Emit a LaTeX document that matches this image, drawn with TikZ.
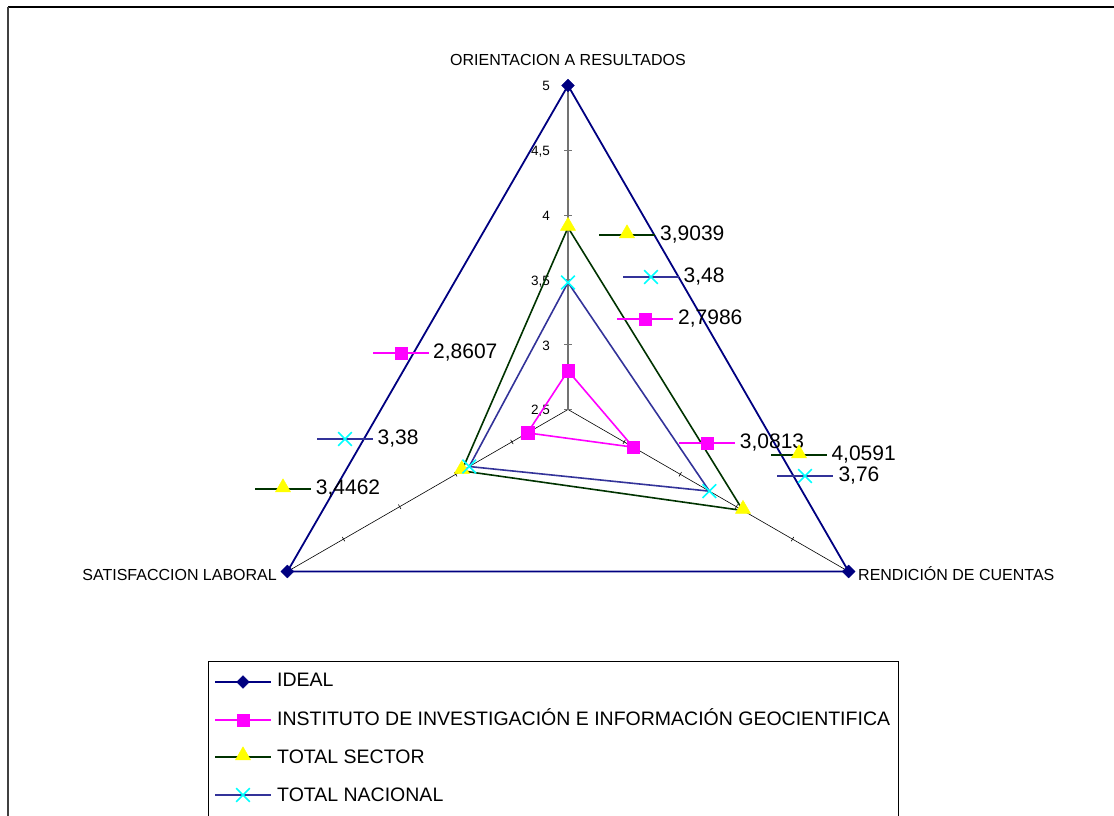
\documentclass[tikz,border=0pt]{standalone}
\usepackage{fontspec}
\setmainfont{Liberation Sans}
\usetikzlibrary{shapes.geometric,shapes.misc,calc}
\definecolor{ideal}{RGB}{0,0,128}
\definecolor{inst}{RGB}{255,0,255}
\definecolor{sector}{RGB}{0,51,0}
\definecolor{nacional}{RGB}{51,51,153}
\definecolor{xcyan}{RGB}{0,255,255}
\definecolor{tri}{RGB}{255,255,0}
\begin{document}
\begin{tikzpicture}[x=1pt,y=-1pt,
  lideal/.style={draw=ideal,line width=1.8},
  linst/.style={draw=inst,line width=1.6},
  lsector/.style={draw=sector,line width=1.6},
  lnac/.style={draw=nacional,line width=1.6},
  mkdiamond/.style={diamond,fill=ideal,draw=ideal,inner sep=0,minimum size=13},
  mksquare/.style={rectangle,fill=inst,draw=inst,inner sep=0,minimum size=12.5},
  mktri/.style={regular polygon,regular polygon sides=3,fill=tri,draw=tri,inner sep=0,minimum size=17.5,yshift=1.5},
  mkx/.style={cross out,draw=xcyan,line width=1.6,inner sep=0,minimum size=12},
  valtext/.style={inner sep=0,anchor=base west,font=\fontsize{21}{23}\selectfont},
  axtext/.style={inner sep=0,font=\fontsize{16}{18}\selectfont},
  ticktext/.style={inner sep=0,anchor=base east,font=\fontsize{13.5}{15}\selectfont},
  legtext/.style={inner sep=0,anchor=base west,font=\fontsize{19.5}{21}\selectfont},
  axisline/.style={draw=black,line width=0.6},
]
\useasboundingbox (0,0) rectangle (1114,816);
% outer chart border (open right and bottom)
\draw[line width=1.3,black] (8,7) -- (1114,7);
\draw[line width=2,black!75] (8,7) -- (8,816);

% centre and vertices
\coordinate (C) at (568,409.5);
\coordinate (O5) at ($(C)+(-90:324)$);
\coordinate (R5) at ($(C)+(30:324)$);
\coordinate (S5) at ($(C)+(150:324)$);

% axes
\draw[draw=black!55,line width=1.2] (C) -- (O5);
\draw[axisline] (C) -- (R5);
\draw[axisline] (C) -- (S5);
\foreach \k in {0,1,2,3,4}{
  \draw[draw=black!55,line width=1] ($(C)+(-90:{64.8*\k})+(-4,0)$) -- ($(C)+(-90:{64.8*\k})+(4,0)$);
}
\foreach \k in {1,2,3,4}{
  \draw[axisline] ($(C)+(30:{64.8*\k})+(120:2.5)$) -- ($(C)+(30:{64.8*\k})+(-60:2.5)$);
  \draw[axisline] ($(C)+(150:{64.8*\k})+(60:2.5)$) -- ($(C)+(150:{64.8*\k})+(-120:2.5)$);
}

% tick labels
\node[ticktext] (t5)  at (550,90.5)  {5};
\node[ticktext] (t45) at (550,155.5) {4,5};
\node[ticktext] (t4)  at (550,220.5) {4};
\node[ticktext] (t35) at (550,285.5) {3,5};
\node[ticktext] (t3)  at (550,350)   {3};
\node[ticktext] (t25) at (550,414.5) {2,5};

% data points
\coordinate (iO) at ($(C)+(-90:38.70)$);
\coordinate (iR) at ($(C)+(30:75.34)$);
\coordinate (iS) at ($(C)+(150:46.75)$);
\coordinate (sO) at ($(C)+(-90:181.95)$);
\coordinate (sR) at ($(C)+(30:202.06)$);
\coordinate (sS) at ($(C)+(150:122.63)$);
\coordinate (nO) at ($(C)+(-90:127.01)$);
\coordinate (nR) at ($(C)+(30:163.30)$);
\coordinate (nS) at ($(C)+(150:114.05)$);

% series polygons
\draw[lideal,line join=miter] (O5) -- (R5) -- (S5) -- cycle;
\draw[linst] (iO) -- (iR) -- (iS) -- cycle;
\draw[lsector] (sO) -- (sR) -- (sS) -- cycle;
\draw[lnac] (nO) -- (nR) -- (nS) -- cycle;

% markers
\foreach \p in {O5,R5,S5}{\node[mkdiamond] at (\p) {};}
\foreach \p in {iO,iR,iS}{\node[mksquare] at (\p) {};}
\foreach \p in {sO,sR,sS}{\node[mktri] at (\p) {};}
\foreach \p in {nO,nR,nS}{\node[mkx] at (\p) {};}

% axis labels
\node[axtext,anchor=base] (lO) at (568,66) {ORIENTACION A RESULTADOS};
\node[axtext,anchor=base west] (lR) at (858,580) {RENDICIÓN DE CUENTAS};
\node[axtext,anchor=base east] (lS) at (277,580) {SATISFACCION LABORAL};

% data labels: key line + marker + value
\newcommand{\dlab}[7]{%
  \coordinate (#1a) at (#2,#3);
  \coordinate (#1b) at (#2+56,#3);
  \draw[#4] (#1a) -- (#1b);
  \node[#5] (#1m) at (#2+28,#3) {};
  \node[valtext] (#1t) at (#7,#3+5.7) {#6};
}
\dlab{kA}{599}{235}{lsector}{mktri}{3,9039}{660}
\dlab{kB}{623}{277}{lnac}{mkx}{3,48}{683.5}
\dlab{kC}{617}{319}{linst}{mksquare}{2,7986}{678}
\dlab{kD}{373}{353}{linst}{mksquare}{2,8607}{433}
\dlab{kE}{317}{439}{lnac}{mkx}{3,38}{377.5}
\dlab{kF}{255}{489}{lsector}{mktri}{3,4462}{315.7}
\dlab{kG}{679}{443}{linst}{mksquare}{3,0813}{739.7}
\dlab{kH}{771}{455}{lsector}{mktri}{4,0591}{831.3}
\dlab{kI}{777}{476}{lnac}{mkx}{3,76}{838.3}

% legend box (open at the bottom edge of the picture)
\draw[line width=1,black] (208,816) -- (208,661) -- (898,661) -- (898,816);
\dlab{gA}{215}{682}{lideal}{mkdiamond}{}{277}
\dlab{gB}{215}{720}{linst}{mksquare}{}{277}
\dlab{gC}{215}{757}{lsector}{mktri}{}{277}
\dlab{gD}{215}{795}{lnac}{mkx}{}{277}
\node[legtext] (LA) at (277,686.7) {IDEAL};
\node[legtext] (LB) at (277,725)   {INSTITUTO DE INVESTIGACIÓN E INFORMACIÓN GEOCIENTIFICA};
\node[legtext] (LC) at (277,763.3) {TOTAL SECTOR};
\node[legtext] (LD) at (277,801.7) {TOTAL NACIONAL};
\end{tikzpicture}
\end{document}
